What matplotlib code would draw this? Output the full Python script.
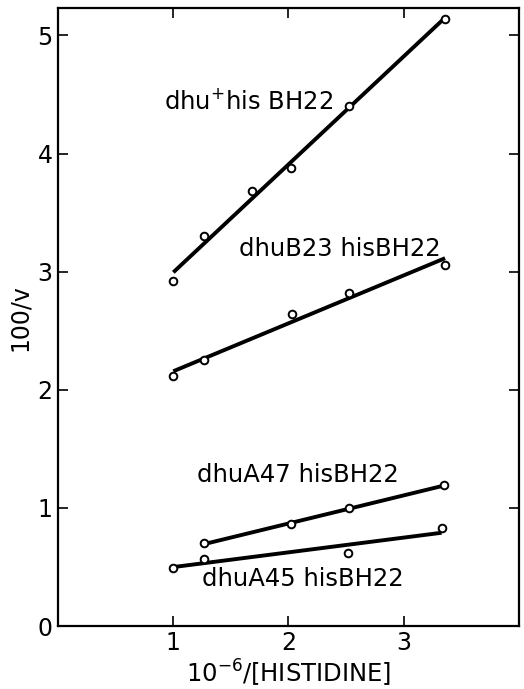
import matplotlib.pyplot as plt
import numpy as np

plt.rcParams['font.family'] = ['DejaVu Sans']
plt.rcParams['mathtext.default'] = 'regular'

# 数据 (10^-6/[HISTIDINE], 100/v)
x_wt = [1.0, 1.27, 1.68, 2.02, 2.53, 3.36]
y_wt = [2.92, 3.30, 3.68, 3.88, 4.40, 5.14]

x_b23 = [1.0, 1.27, 2.03, 2.53, 3.36]
y_b23 = [2.12, 2.25, 2.64, 2.82, 3.06]

x_a47 = [1.27, 2.02, 2.53, 3.35]
y_a47 = [0.70, 0.86, 1.00, 1.19]

x_a45 = [1.0, 1.27, 2.52, 3.33]
y_a45 = [0.49, 0.57, 0.62, 0.83]

labels = [r'dhu$^{+}$his BH22', 'dhuB23 hisBH22', 'dhuA47 hisBH22', 'dhuA45 hisBH22']
label_pos = [(0.92, 4.44), (1.57, 3.19), (1.21, 1.28), (1.25, 0.40)]

fig = plt.figure(figsize=(5.24, 6.89), dpi=100)
ax = fig.add_axes([0.111, 0.0914, 0.879, 0.8966])

for xs, ys in [(x_wt, y_wt), (x_b23, y_b23), (x_a47, y_a47), (x_a45, y_a45)]:
    # 直线拟合
    k, b = np.polyfit(xs, ys, 1)
    xl = np.array([min(xs), max(xs)])
    ax.plot(xl, k * xl + b, color='black', lw=2.8, solid_capstyle='butt', zorder=2)
    ax.plot(xs, ys, 'o', ms=5.5, mfc='white', mec='black', mew=1.4, zorder=3)

for txt, (tx, ty) in zip(labels, label_pos):
    ax.text(tx, ty, txt, fontsize=17.5, va='center', ha='left')

ax.set_xlim(0, 4.0)
ax.set_ylim(0, 5.23)
ax.set_xticks([1, 2, 3])
ax.set_yticks([0, 1, 2, 3, 4, 5])
ax.tick_params(direction='in', length=7, width=1.2, labelsize=17, top=True, right=True)
ax.tick_params(axis='y', pad=4)
for s in ax.spines.values():
    s.set_linewidth(1.6)

ax.set_xlabel(r'$10^{-6}$/[HISTIDINE]', fontsize=17.5, labelpad=2)
ax.set_ylabel('100/v', fontsize=17, labelpad=4)

fig.savefig('out.png', dpi=100)
